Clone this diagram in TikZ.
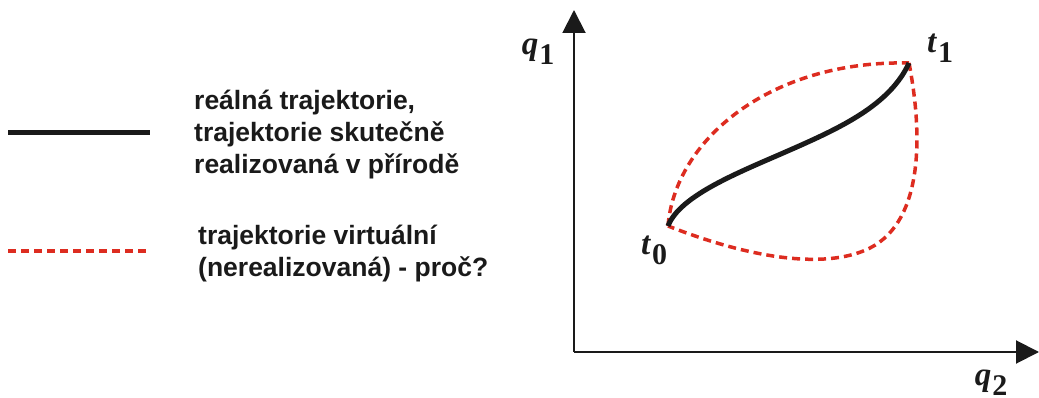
\documentclass[tikz,border=0pt]{standalone}
\usepackage{fontspec}
\setmainfont{Liberation Serif}
\newfontfamily\legfont{Liberation Sans}
\usetikzlibrary{arrows.meta}
\definecolor{trajred}{RGB}{221,44,32}
\definecolor{inkblack}{RGB}{26,26,26}
\tikzset{
  axis/.style={line width=2pt, inkblack, -{Triangle[length=23pt,width=23pt]}},
  realline/.style={line width=5pt, inkblack},
  virtline/.style={line width=3.5pt, trajred, dash pattern=on 8pt off 5pt},
  legtext/.style={align=left, anchor=west, inner sep=0pt, text=inkblack,
    font=\legfont\bfseries\fontsize{26.5}{32}\selectfont},
  varlabel/.style={inner sep=0pt, text=inkblack, font=\fontsize{33}{33}\selectfont}
}
\newcommand{\varsub}[2]{\textbf{\textit{#1}}\kern1pt\raisebox{-10pt}{\textbf{\fontsize{30}{30}\selectfont #2}}}
\begin{document}
\begin{tikzpicture}[x=1pt,y=-1pt]
\useasboundingbox (0,0) rectangle (1039,398);
% axes
\coordinate (O) at (574,352);
\coordinate (Ytip) at (574,10);
\coordinate (Xtip) at (1039,352);
\draw[axis] (O) -- (Ytip);
\draw[axis] (O) -- (Xtip);
% points
\coordinate (t0) at (668,226);
\coordinate (t1) at (909,63);
\coordinate (m1) at (790,150);
\coordinate (m2) at (870,248);
% virtual trajectories
\draw[virtline] (t0) .. controls (675,140) and (770,60) .. (t1);
\draw[virtline] (t1) .. controls (922,130) and (925,220) .. (m2)
  .. controls (830,268) and (760,262) .. (t0);
% real trajectory
\draw[realline] (t0) .. controls (680,195) and (740,172) .. (m1)
  .. controls (840,128) and (890,105) .. (t1);
% labels
\node[varlabel] (lq1) at (538,52) {\varsub{q}{1}};
\node[varlabel] (lt1) at (940,48) {\varsub{t}{1}};
\node[varlabel] (lt0) at (654,250) {\varsub{t}{0}};
\node[varlabel] (lq2) at (991,383) {\varsub{q}{2}};
% legend
\coordinate (la) at (8,133);
\coordinate (lb) at (150,133);
\coordinate (lc) at (8,251);
\coordinate (ld) at (150,251);
\draw[line width=5pt, inkblack] (la) -- (lb);
\draw[virtline] (lc) -- (ld);
\node[legtext] (txt1) at (194,135) {reálná trajektorie,\\trajektorie skutečně\\realizovaná v přírodě};
\node[legtext] (txt2) at (198,254) {trajektorie virtuální\\(nerealizovaná) - proč?};
\end{tikzpicture}
\end{document}
